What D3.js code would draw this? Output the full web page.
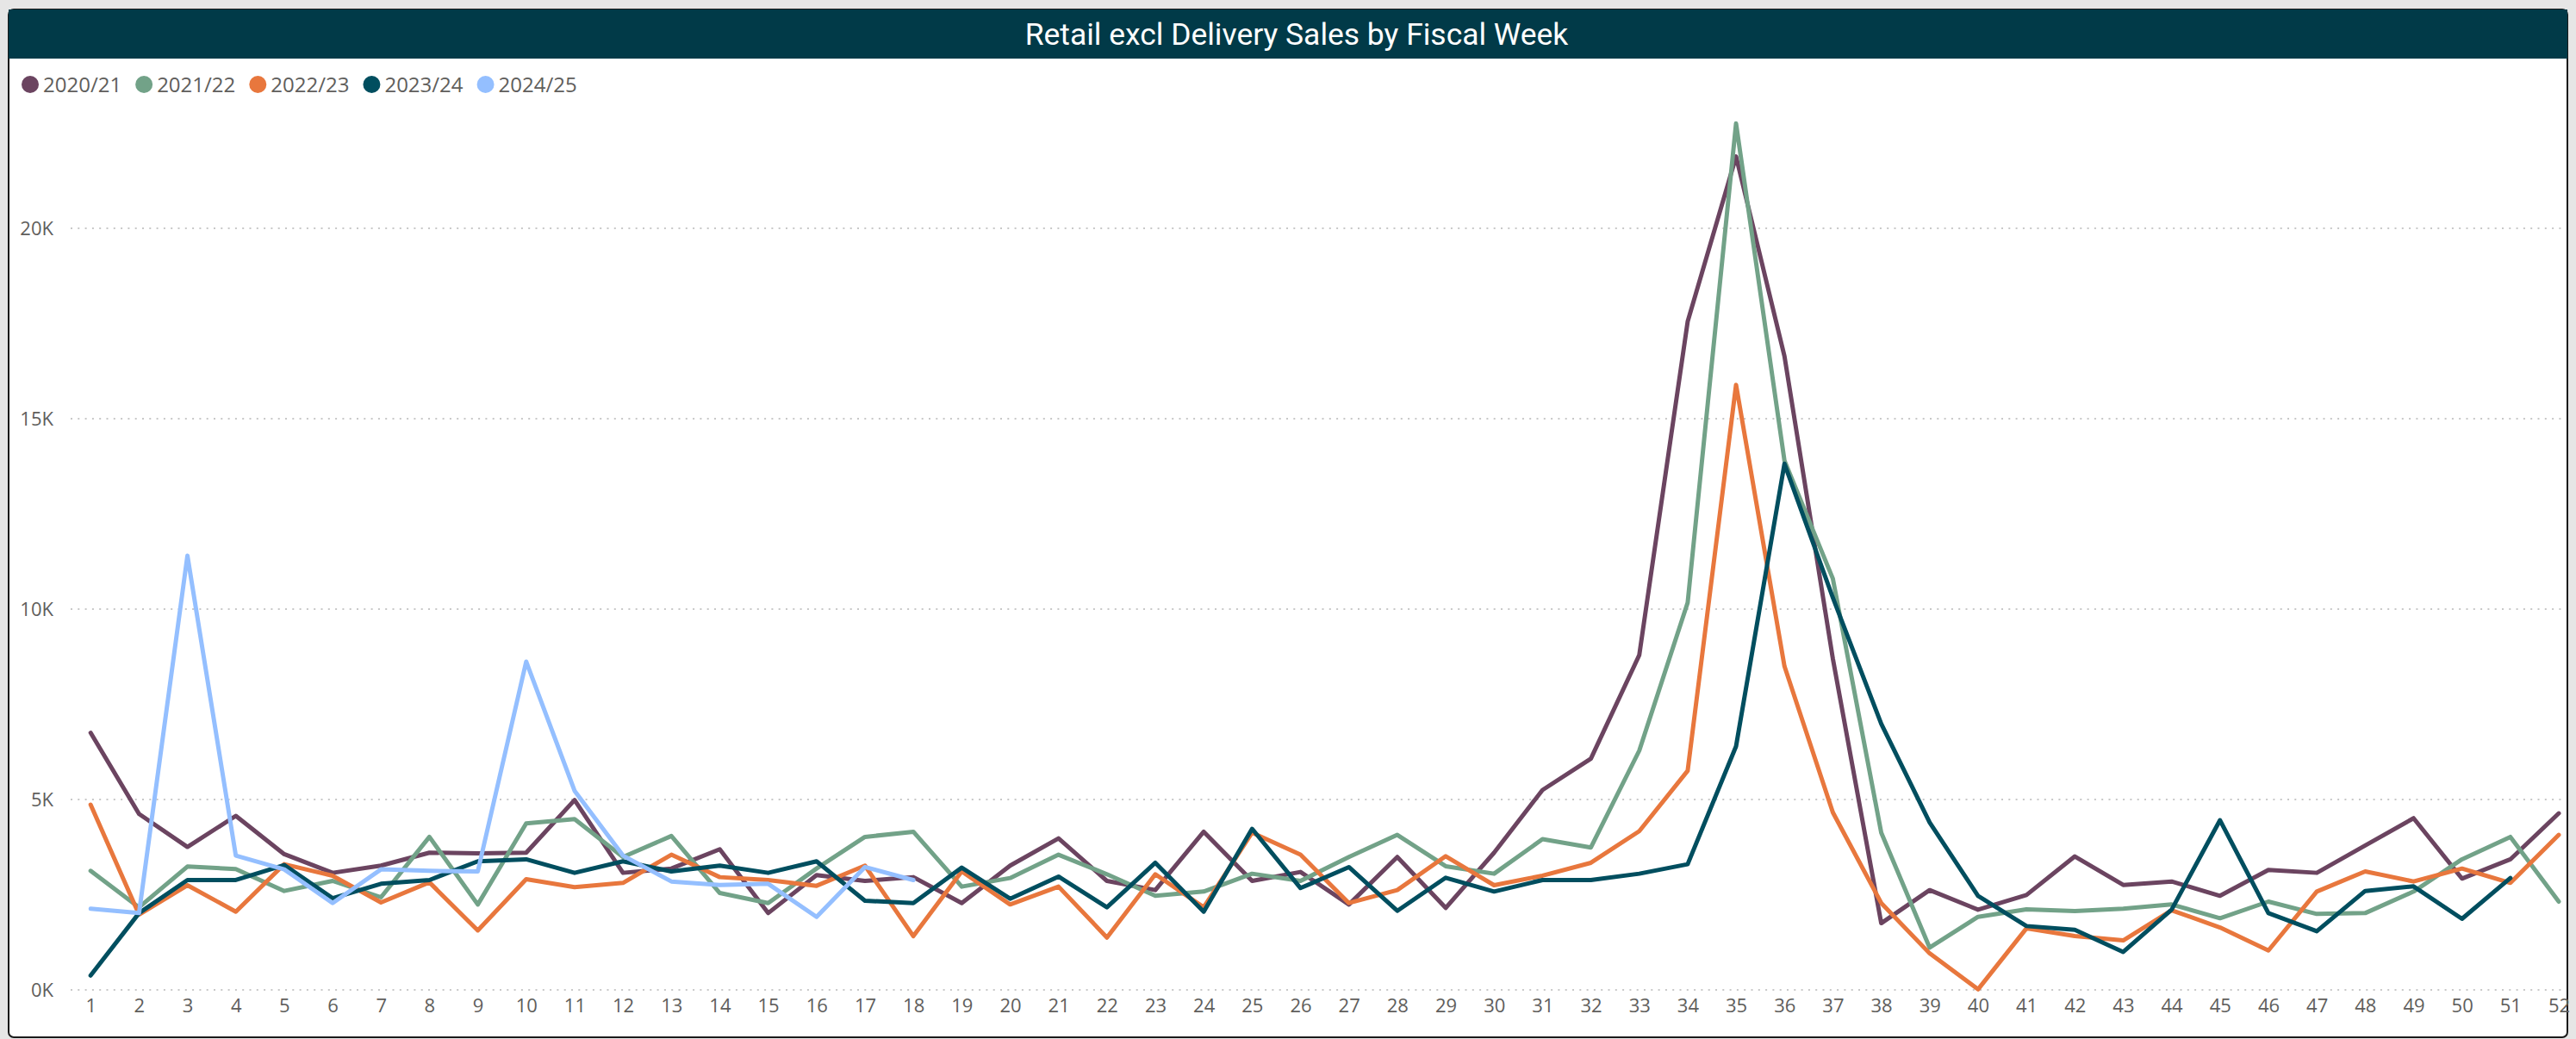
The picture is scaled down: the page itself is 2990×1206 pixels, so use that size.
<!DOCTYPE html>
<html>
<head>
<meta charset="utf-8">
<script src="https://cdn.jsdelivr.net/npm/d3@7"></script>
<style>
  html, body { margin: 0; padding: 0; background: #e6e6e6; }
  svg { display: block; }
</style>
</head>
<body>
<svg id="chart" width="2990" height="1206"></svg>
<script>
// ---------- DATA ----------
const chartTitle = "Retail excl Delivery Sales by Fiscal Week";
const weeks = d3.range(1, 53);
const seriesNames = ["2020/21", "2021/22", "2022/23", "2023/24", "2024/25"];
const seriesColors = ["#6B4460", "#72A288", "#E8773D", "#004E5F", "#94BFFF"];
const yTickValues = [0, 5000, 10000, 15000, 20000];
const yTickLabels = ["0K", "5K", "10K", "15K", "20K"];

const s2020 = [6752, 4622, 3754, 4570, 3565, 3074, 3263, 3603, 3588, 3603,
  4986, 3074, 3187, 3693, 2017, 3014, 2862, 2961, 2281, 3263,
  3980, 2862, 2621, 4154, 2862, 3097, 2243, 3490, 2153, 3603,
  5249, 6073, 8792, 17550, 21885, 16645, 8700, 1752, 2621, 2107,
  2492, 3505, 2757, 2847, 2470, 3150, 3074, 3792, 4509, 2923,
  3429, 4637];
const s2021 = [3127, 2168, 3240, 3172, 2598, 2862, 2432, 4018, 2243, 4373,
  4486, 3490, 4041, 2545, 2281, 3187, 4018, 4154, 2712, 2938,
  3550, 3036, 2470, 2583, 3051, 2862, 3490, 4071, 3248, 3051,
  3958, 3739, 6284, 10170, 22753, 13900, 10800, 4131, 1110, 1918,
  2115, 2070, 2130, 2243, 1881, 2319, 1994, 2017, 2583, 3429,
  4018, 2319];
const s2022 = [4864, 1979, 2749, 2054, 3301, 2999, 2296, 2825, 1563, 2908,
  2696, 2810, 3550, 2961, 2885, 2734, 3263, 1412, 3112, 2243,
  2712, 1375, 3036, 2168, 4131, 3550, 2281, 2621, 3512, 2749,
  2999, 3338, 4169, 5755, 15890, 8500, 4660, 2281, 959, 15,
  1616, 1412, 1299, 2092, 1639, 1035, 2583, 3112, 2847, 3187,
  2810, 4071];
const s2023 = [378, 2017, 2885, 2885, 3278, 2409, 2787, 2885, 3376, 3429,
  3074, 3376, 3112, 3263, 3074, 3376, 2341, 2281, 3210, 2394,
  2976, 2168, 3338, 2054, 4230, 2674, 3225, 2077, 2946, 2583,
  2885, 2885, 3051, 3301, 6397, 13816, 10300, 6990, 4396, 2470,
  1677, 1579, 997, 2107, 4456, 2017, 1541, 2598, 2719, 1866,
  2938, null];
const s2024 = [2130, 2017, 11403, 3527, 3165, 2281, 3165, 3127, 3112, 8620,
  5227, 3527, 2847, 2757, 2787, 1918, 3225, 2885];

const seriesValues = [s2020, s2021, s2022, s2023, s2024];

// ---------- LAYOUT ----------
const svg = d3.select("#chart");
const card = { x: 10, y: 11, w: 2970, h: 1193 };
const plotLeft = 105.2, plotRight = 2970, plotBottom = 1149, y20k = 265;

const fontTicks = "'Open Sans', 'Noto Sans', sans-serif";
const textGray = "#605E5C";

// card
svg.append("rect")
  .attr("x", card.x).attr("y", card.y).attr("width", card.w).attr("height", card.h)
  .attr("rx", 6).attr("fill", "#ffffff").attr("stroke", "#1a1a1a").attr("stroke-width", 2);

// title bar
svg.append("rect")
  .attr("x", card.x).attr("y", card.y).attr("width", card.w).attr("height", 57)
  .attr("fill", "#013A48");
const title = svg.append("text")
  .attr("x", 1505).attr("y", 52)
  .attr("text-anchor", "middle")
  .attr("fill", "#ffffff")
  .style("font-family", "Roboto, 'Noto Sans', sans-serif")
  .style("font-size", "38px")
  .text(chartTitle);
{
  const len = title.node().getComputedTextLength();
  const fs = 38 * 631 / len;
  title.style("font-size", Math.min(44, Math.max(30, fs)) + "px");
}

// scales
const x = d3.scalePoint().domain(weeks).range([plotLeft, plotRight]).padding(0);
const y = d3.scaleLinear().domain([0, 20000]).range([plotBottom, y20k]);

// grid lines (dotted)
svg.append("g").selectAll("line")
  .data(yTickValues)
  .join("line")
  .attr("x1", 82).attr("x2", 2978)
  .attr("y1", d => y(d)).attr("y2", d => y(d))
  .attr("stroke", "#c8c8c8")
  .attr("stroke-width", 2)
  .attr("stroke-dasharray", "2,6.3");

// y axis labels
const yAxis = d3.axisLeft(y)
  .tickValues(yTickValues)
  .tickFormat((d, i) => yTickLabels[i])
  .tickSize(0).tickPadding(0);
const gy = svg.append("g").attr("transform", "translate(62,0)").call(yAxis);
gy.select(".domain").remove();
gy.attr("color", textGray);
gy.selectAll("text")
  .attr("fill", textGray)
  .style("font-family", fontTicks)
  .style("font-size", "22px")
  .attr("dy", "0.35em");

// x axis labels
const xAxis = d3.axisBottom(x).tickSize(0).tickPadding(0);
const gx = svg.append("g").attr("transform", "translate(0,1159)").call(xAxis);
gx.select(".domain").remove();
gx.attr("color", textGray);
gx.selectAll("text")
  .attr("fill", textGray)
  .style("font-family", fontTicks)
  .style("font-size", "22px")
  .attr("dy", "0.71em");

// lines
const line = d3.line()
  .defined(d => d.v !== null && d.v !== undefined)
  .x(d => x(d.w))
  .y(d => y(d.v));

seriesValues.forEach((vals, i) => {
  const pts = vals.map((v, j) => ({ w: weeks[j], v: v }));
  svg.append("path")
    .datum(pts)
    .attr("fill", "none")
    .attr("stroke", seriesColors[i])
    .attr("stroke-width", 5)
    .attr("stroke-linejoin", "round")
    .attr("stroke-linecap", "round")
    .attr("d", line);
});

// legend
const legend = svg.append("g");
let lx = 25;
seriesNames.forEach((name, i) => {
  legend.append("circle")
    .attr("cx", lx + 10).attr("cy", 98).attr("r", 10)
    .attr("fill", seriesColors[i]);
  const t = legend.append("text")
    .attr("x", lx + 25).attr("y", 107)
    .attr("fill", textGray)
    .style("font-family", fontTicks)
    .style("font-size", "24px")
    .text(name);
  lx = lx + 25 + t.node().getComputedTextLength() + 16;
});
</script>
</body>
</html>
